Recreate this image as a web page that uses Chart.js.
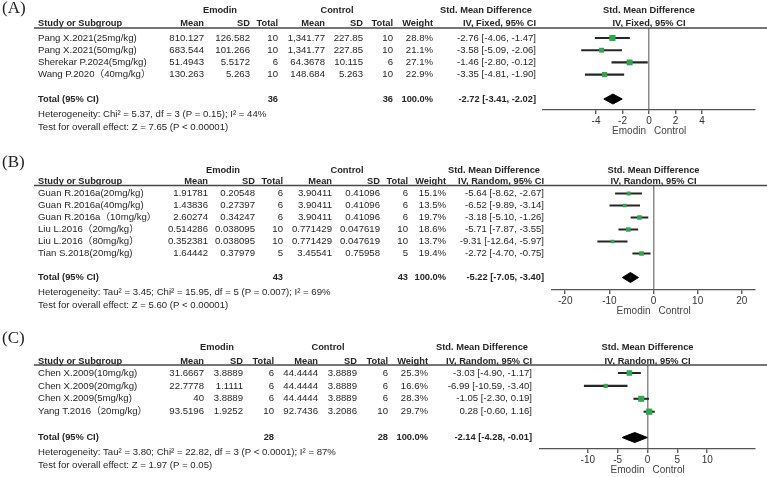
<!DOCTYPE html>
<html><head><meta charset="utf-8">
<script src="https://cdn.jsdelivr.net/npm/chart.js@4.4.1/dist/chart.umd.min.js"></script>
<style>
html,body{margin:0;padding:0;background:#fff;}
#wrap{position:relative;width:767px;height:477px;overflow:hidden;background:#fff;}
#wrap canvas{position:absolute;left:0;top:0;}
</style></head><body>
<div id="wrap">
<canvas id="cA" width="767" height="477"></canvas>
<canvas id="cB" width="767" height="477"></canvas>
<canvas id="cC" width="767" height="477"></canvas>
</div>
<script>
// ---------- Panel A data ----------
const studiesA = ["Pang X.2021(25mg/kg)", "Pang X.2021(50mg/kg)", "Sherekar P.2024(5mg/kg)", "Wang P.2020（40mg/kg）"];
const emMeanA = ["810.127", "683.544", "51.4943", "130.263"];
const emSdA = ["126.582", "101.266", "5.5172", "5.263"];
const emNA = [10, 10, 6, 10];
const ctMeanA = ["1,341.77", "1,341.77", "64.3678", "148.684"];
const ctSdA = ["227.85", "227.85", "10.115", "5.263"];
const ctNA = [10, 10, 6, 10];
const weightA = [28.8, 21.1, 27.1, 22.9];
const smdA = [-2.76, -3.58, -1.46, -3.35];
const loA = [-4.06, -5.09, -2.80, -4.81];
const hiA = [-1.47, -2.06, -0.12, -1.90];
const totalA = [-2.72, -3.41, -2.02];
const totalWeightA = "100.0%";
const ticksA = [-4, -2, 0, 2, 4];
const rangeA = [-8, 8];
const methodA = "IV, Fixed, 95% CI";
const hetA = "Heterogeneity: Chi² = 5.37, df = 3 (P = 0.15); I² = 44%";
const testA = "Test for overall effect: Z = 7.65 (P < 0.00001)";

// ---------- Panel B data ----------
const studiesB = ["Guan R.2016a(20mg/kg)", "Guan R.2016a(40mg/kg)", "Guan R.2016a（10mg/kg）", "Liu L.2016（20mg/kg）", "Liu L.2016（80mg/kg）", "Tian S.2018(20mg/kg)"];
const emMeanB = ["1.91781", "1.43836", "2.60274", "0.514286", "0.352381", "1.64442"];
const emSdB = ["0.20548", "0.27397", "0.34247", "0.038095", "0.038095", "0.37979"];
const emNB = [6, 6, 6, 10, 10, 5];
const ctMeanB = ["3.90411", "3.90411", "3.90411", "0.771429", "0.771429", "3.45541"];
const ctSdB = ["0.41096", "0.41096", "0.41096", "0.047619", "0.047619", "0.75958"];
const ctNB = [6, 6, 6, 10, 10, 5];
const weightB = [15.1, 13.5, 19.7, 18.6, 13.7, 19.4];
const smdB = [-5.64, -6.52, -3.18, -5.71, -9.31, -2.72];
const loB = [-8.62, -9.89, -5.10, -7.87, -12.64, -4.70];
const hiB = [-2.67, -3.14, -1.26, -3.55, -5.97, -0.75];
const totalB = [-5.22, -7.05, -3.40];
const totalWeightB = "100.0%";
const ticksB = [-20, -10, 0, 10, 20];
const rangeB = [-23, 23];
const methodB = "IV, Random, 95% CI";
const hetB = "Heterogeneity: Tau² = 3.45; Chi² = 15.95, df = 5 (P = 0.007); I² = 69%";
const testB = "Test for overall effect: Z = 5.60 (P < 0.00001)";

// ---------- Panel C data ----------
const studiesC = ["Chen X.2009(10mg/kg)", "Chen X.2009(20mg/kg)", "Chen X.2009(5mg/kg)", "Yang T.2016（20mg/kg）"];
const emMeanC = ["31.6667", "22.7778", "40", "93.5196"];
const emSdC = ["3.8889", "1.1111", "3.8889", "1.9252"];
const emNC = [6, 6, 6, 10];
const ctMeanC = ["44.4444", "44.4444", "44.4444", "92.7436"];
const ctSdC = ["3.8889", "3.8889", "3.8889", "3.2086"];
const ctNC = [6, 6, 6, 10];
const weightC = [25.3, 16.6, 28.3, 29.7];
const smdC = [-3.03, -6.99, -1.05, 0.28];
const loC = [-4.90, -10.59, -2.30, -0.60];
const hiC = [-1.17, -3.40, 0.19, 1.16];
const totalC = [-2.14, -4.28, -0.01];
const totalWeightC = "100.0%";
const ticksC = [-10, -5, 0, 5, 10];
const rangeC = [-18, 18];
const methodC = "IV, Random, 95% CI";
const hetC = "Heterogeneity: Tau² = 3.80; Chi² = 22.82, df = 3 (P < 0.0001); I² = 87%";
const testC = "Test for overall effect: Z = 1.97 (P = 0.05)";

// ---------- styling / layout ----------
const FONT = '"Liberation Sans", Arial, "Noto Sans CJK SC", sans-serif';
const SERIF = '"Liberation Serif", "Times New Roman", serif';
const GREEN = '#2ea84c';
const TXT = '#262626';
const W = 767, H = 477, AXH = 16;

const layoutA = {label:'(A)', labelY:9, groupY:10, headY:23, top:28, row0:38, step:12.2, axisY:110, left:543, right:755,
  cols:{mean:204, sd:250, n:278, cmean:325, csd:363, cn:393, w:433, smd:536}, grpE:220, grpC:337};
const layoutB = {label:'(B)', labelY:163, groupY:170, headY:181.5, top:185.5, row0:193.5, step:12, axisY:290, left:552, right:755,
  cols:{mean:208, sd:255, n:283, cmean:332, csd:380, cn:408, w:446, smd:544}, grpE:223, grpC:347};
const layoutC = {label:'(C)', labelY:339, groupY:347.5, headY:361, top:365, row0:373, step:12.9, axisY:449, left:540, right:755,
  cols:{mean:204, sd:243, n:274, cmean:318, csd:357, cn:388, w:428, smd:532}, grpE:217, grpC:328};

function fmt(v){ return v.toFixed(2); }
function ciText(e, l, h){ return fmt(e) + ' [' + fmt(l) + ', ' + fmt(h) + ']'; }
function sum(a){ return a.reduce((s, v) => s + v, 0); }

function makePanel(id, P, D){
  const n = D.study.length;
  const ti = n + 1;
  const yMin = (P.top - P.row0) / P.step;
  const yMax = (P.axisY - P.row0) / P.step;
  const dh = 5 / P.step;
  const side = w => 1.5 + w * 0.16;

  const tablePlugin = {
    id: 'table' + id,
    afterDraw(chart){
      const ctx = chart.ctx;
      const ys = chart.scales.y, xs = chart.scales.x;
      const zx = xs.getPixelForValue(0);
      const rowY = i => ys.getPixelForValue(i);
      function t(s, x, y, align, bold, size, color, family){
        ctx.font = (bold ? 'bold ' : '') + (size || (bold ? 9.3 : 9.6)) + 'px ' + (family || FONT);
        ctx.fillStyle = color || TXT;
        ctx.textAlign = align || 'left';
        ctx.textBaseline = 'middle';
        ctx.fillText(s, x, y);
      }
      ctx.save();
      t(P.label, 2, P.labelY, 'left', false, 17, '#222', SERIF);
      t('Emodin', P.grpE, P.groupY, 'center', true);
      t('Control', P.grpC, P.groupY, 'center', true);
      t('Std. Mean Difference', P.cols.smd - 4, P.groupY, 'right', true);
      t('Std. Mean Difference', zx, P.groupY, 'center', true);
      t('Study or Subgroup', 38, P.headY, 'left', true);
      t('Mean', P.cols.mean, P.headY, 'right', true);
      t('SD', P.cols.sd, P.headY, 'right', true);
      t('Total', P.cols.n, P.headY, 'right', true);
      t('Mean', P.cols.cmean, P.headY, 'right', true);
      t('SD', P.cols.csd, P.headY, 'right', true);
      t('Total', P.cols.cn, P.headY, 'right', true);
      t('Weight', P.cols.w, P.headY, 'right', true);
      t(D.method, P.cols.smd, P.headY, 'right', true);
      t(D.method, zx, P.headY, 'center', true);
      ctx.strokeStyle = '#474747';
      ctx.lineWidth = 1.5;
      ctx.beginPath();
      ctx.moveTo(34, P.top); ctx.lineTo(W, P.top);
      ctx.stroke();
      for (let i = 0; i < n; i++){
        const y = rowY(i);
        t(D.study[i], 38, y, 'left');
        t(D.emMean[i], P.cols.mean, y, 'right');
        t(D.emSd[i], P.cols.sd, y, 'right');
        t(String(D.emN[i]), P.cols.n, y, 'right');
        t(D.ctMean[i], P.cols.cmean, y, 'right');
        t(D.ctSd[i], P.cols.csd, y, 'right');
        t(String(D.ctN[i]), P.cols.cn, y, 'right');
        t(D.weight[i].toFixed(1) + '%', P.cols.w, y, 'right');
        t(ciText(D.smd[i], D.lo[i], D.hi[i]), P.cols.smd, y, 'right');
      }
      const ty = rowY(ti);
      t('Total (95% CI)', 38, ty, 'left', true);
      t(String(sum(D.emN)), P.cols.n, ty, 'right', true);
      t(String(sum(D.ctN)), P.cols.cn, ty, 'right', true);
      t(D.totalWeight, P.cols.w, ty, 'right', true);
      t(ciText(D.total[0], D.total[1], D.total[2]), P.cols.smd, ty, 'right', true);
      t(D.het, 38, ty + 15, 'left');
      t(D.test, 38, ty + 28, 'left');
      t('Emodin', zx - 3, P.axisY + 21, 'right', false, 10, '#444');
      t('Control', zx + 5, P.axisY + 21, 'left', false, 10, '#444');
      ctx.restore();
    }
  };

  return new Chart(document.getElementById(id), {
    type: 'scatter',
    data: {
      datasets: [
        { type: 'scatter', order: 0,
          data: D.smd.map((v, i) => ({x: v, y: i})),
          pointStyle: 'rect',
          pointRadius: c => side(D.weight[c.dataIndex]) / Math.SQRT2,
          pointHoverRadius: c => side(D.weight[c.dataIndex]) / Math.SQRT2,
          backgroundColor: GREEN, borderWidth: 0 },
        { type: 'line', order: 1,
          data: [{x: D.total[1], y: ti}, {x: D.total[0], y: ti - dh}, {x: D.total[2], y: ti}, {x: D.total[0], y: ti + dh}, {x: D.total[1], y: ti}],
          fill: 'shape', backgroundColor: '#000', borderColor: '#000', borderWidth: 1,
          pointRadius: 0, tension: 0, showLine: true },
        { type: 'bar', order: 2, indexAxis: 'y',
          data: D.lo.map((v, i) => ({x: [v, D.hi[i]], y: i})),
          backgroundColor: '#262626', borderWidth: 0, barThickness: 1.4, grouped: false }
      ]
    },
    options: {
      responsive: false, animation: false, devicePixelRatio: 1,
      layout: { autoPadding: false, padding: {left: P.left, right: W - P.right, top: P.top, bottom: H - P.axisY - AXH} },
      plugins: { legend: {display: false}, tooltip: {enabled: false} },
      events: [],
      scales: {
        x: { type: 'linear', min: D.range[0], max: D.range[1], offset: false, beginAtZero: false,
          afterBuildTicks: s => { s.ticks = D.ticks.map(v => ({value: v})); },
          afterFit: s => { s.height = AXH; },
          border: {display: true, color: '#555', width: 1.3},
          grid: { display: true, drawOnChartArea: true, offset: false,
            color: c => (c.tick && c.tick.value === 0) ? '#8c8c8c' : 'rgba(0,0,0,0)',
            lineWidth: 1.5, drawTicks: true, tickLength: 4, tickColor: '#444', tickWidth: 1.2 },
          ticks: { font: {family: FONT, size: 10}, color: '#333', padding: 1, maxRotation: 0, autoSkip: false,
            callback: v => String(v) } },
        y: { type: 'linear', display: false, reverse: true, min: yMin, max: yMax, offset: false, beginAtZero: false,
          grid: {offset: false} }
      }
    },
    plugins: [tablePlugin]
  });
}

makePanel('cA', layoutA, {study: studiesA, emMean: emMeanA, emSd: emSdA, emN: emNA, ctMean: ctMeanA, ctSd: ctSdA, ctN: ctNA,
  weight: weightA, smd: smdA, lo: loA, hi: hiA, total: totalA, totalWeight: totalWeightA, ticks: ticksA, range: rangeA, method: methodA, het: hetA, test: testA});
makePanel('cB', layoutB, {study: studiesB, emMean: emMeanB, emSd: emSdB, emN: emNB, ctMean: ctMeanB, ctSd: ctSdB, ctN: ctNB,
  weight: weightB, smd: smdB, lo: loB, hi: hiB, total: totalB, totalWeight: totalWeightB, ticks: ticksB, range: rangeB, method: methodB, het: hetB, test: testB});
makePanel('cC', layoutC, {study: studiesC, emMean: emMeanC, emSd: emSdC, emN: emNC, ctMean: ctMeanC, ctSd: ctSdC, ctN: ctNC,
  weight: weightC, smd: smdC, lo: loC, hi: hiC, total: totalC, totalWeight: totalWeightC, ticks: ticksC, range: rangeC, method: methodC, het: hetC, test: testC});
</script>
</body></html>
